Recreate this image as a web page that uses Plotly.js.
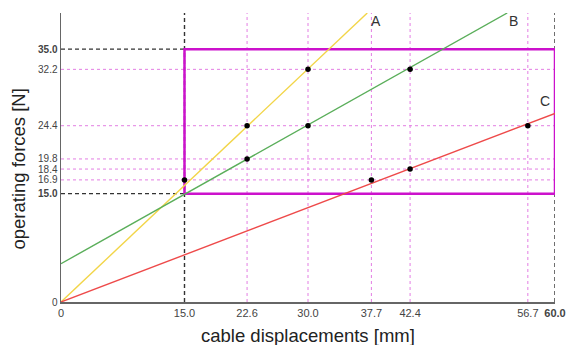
<!DOCTYPE html>
<html>
<head>
<meta charset="utf-8">
<script src="https://cdn.plot.ly/plotly-3.0.1.min.js"></script>
<style>
  html, body { margin: 0; padding: 0; background: #fff; }
  #chart { width: 569px; height: 345px; }
</style>
</head>
<body>
<div id="chart"></div>
<script>
// Characteristic lines (start and end of each straight line)
const lineA_x = [0, 37.2];
const lineA_y = [0, 40];
const lineB_x = [0, 54.2];
const lineB_y = [5.3, 40];
const lineC_x = [0, 60];
const lineC_y = [0, 26.1];

// Marked operating points
const pointsX = [15.0, 22.6, 30.0, 22.6, 30.0, 42.4, 37.7, 42.4, 56.7];
const pointsY = [16.9, 24.4, 32.2, 19.8, 24.4, 32.2, 16.9, 18.4, 24.4];

// Axis ticks
const xTickVals = [0, 15.0, 22.6, 30.0, 37.7, 42.4, 56.7, 60.0];
const xTickText = ['0', '15.0', '22.6', '30.0', '37.7', '42.4', '56.7', '<b>60.0</b>'];
const yTickVals = [0, 15.0, 16.9, 18.4, 19.8, 24.4, 32.2, 35.0];
const yTickText = ['0', '<b>15.0</b>', '16.9', '18.4', '19.8', '24.4', '32.2', '<b>35.0</b>'];

// Reference grid lines (dotted)
const gridX = [22.6, 30.0, 37.7, 42.4, 56.7];
const gridY = [16.9, 18.4, 19.8, 24.4, 32.2];

// Operating window
const boxX = [15.0, 60.0];
const boxY = [15.0, 35.0];

const xMax = 60, yMax = 40;

const traces = [
  { x: lineA_x, y: lineA_y, mode: 'lines', line: { color: '#f2d548', width: 1.4 }, hoverinfo: 'skip' },
  { x: lineB_x, y: lineB_y, mode: 'lines', line: { color: '#5aae5a', width: 1.4 }, hoverinfo: 'skip' },
  { x: lineC_x, y: lineC_y, mode: 'lines', line: { color: '#ee4a4a', width: 1.4 }, hoverinfo: 'skip' },
  { x: pointsX, y: pointsY, mode: 'markers', marker: { color: '#000', size: 5.5 }, hoverinfo: 'skip' }
];

const shapes = [];
const gridStyle = { color: '#e37ee3', width: 1, dash: 'dot' };
gridX.forEach(v => shapes.push({ type: 'line', xref: 'x', yref: 'y', x0: v, x1: v, y0: 0, y1: yMax, line: gridStyle, layer: 'below' }));
gridY.forEach(v => shapes.push({ type: 'line', xref: 'x', yref: 'y', x0: 0, x1: xMax, y0: v, y1: v, line: gridStyle, layer: 'below' }));

const dashStyle = { color: '#333', width: 1.4, dash: '4px,3px' };
// vertical guides at the window edges
boxX.forEach(v => shapes.push({ type: 'line', xref: 'x', yref: 'y', x0: v, x1: v, y0: 0, y1: yMax, line: dashStyle, layer: 'below' }));
// horizontal guides from the force axis to the window
boxY.forEach(v => shapes.push({ type: 'line', xref: 'x', yref: 'y', x0: 0, x1: boxX[0], y0: v, y1: v, line: dashStyle, layer: 'below' }));
// window frame
shapes.push({ type: 'rect', xref: 'x', yref: 'y', x0: boxX[0], x1: boxX[1], y0: boxY[0], y1: boxY[1],
  line: { color: '#cc11cc', width: 2.5 }, fillcolor: 'rgba(0,0,0,0)', layer: 'below' });

const fontFamily = 'Arial, "Liberation Sans", sans-serif';
const labelFont = { family: fontFamily, size: 14, color: '#333' };
const titleFont = { family: fontFamily, size: 18.5, color: '#222' };
const annotations = [
  { x: lineA_x[1], y: lineA_y[1], text: 'A', showarrow: false, xanchor: 'left', yanchor: 'top', xshift: 2, yshift: 2, font: labelFont },
  { x: lineB_x[1], y: lineB_y[1], text: 'B', showarrow: false, xanchor: 'left', yanchor: 'top', xshift: 0, yshift: 2, font: labelFont },
  { x: lineC_x[1], y: lineC_y[1], text: 'C', showarrow: false, xanchor: 'right', yanchor: 'bottom', xshift: -3, yshift: 2, font: labelFont },
  // axis titles
  { xref: 'paper', yref: 'paper', x: 0.5, y: -0.115, xanchor: 'center', yanchor: 'middle',
    text: 'cable displacements [mm]', showarrow: false, font: titleFont },
  { xref: 'paper', yref: 'paper', x: -0.086, y: 0.46, xanchor: 'center', yanchor: 'middle', textangle: -90,
    text: 'operating forces [N]', showarrow: false, font: titleFont }
];

const xTickFont = { family: fontFamily, size: 11, color: '#444' };
const yTickFont = { family: fontFamily, size: 10, color: '#444' };

const layout = {
  width: 569, height: 345,
  margin: { l: 61, r: 14, t: 13, b: 43 },
  paper_bgcolor: '#fff', plot_bgcolor: '#fff',
  showlegend: false,
  xaxis: {
    range: [0, xMax], showgrid: false, zeroline: false,
    showline: true, linecolor: '#666', linewidth: 1.5,
    tickmode: 'array', tickvals: xTickVals, ticktext: xTickText,
    ticks: '', tickfont: xTickFont
  },
  yaxis: {
    range: [0, yMax], showgrid: false, zeroline: false,
    showline: true, linecolor: '#666', linewidth: 1.5,
    tickmode: 'array', tickvals: yTickVals, ticktext: yTickText,
    ticks: '', tickfont: yTickFont
  },
  shapes: shapes,
  annotations: annotations
};

Plotly.newPlot('chart', traces, layout, { staticPlot: true, displayModeBar: false });
</script>
</body>
</html>
